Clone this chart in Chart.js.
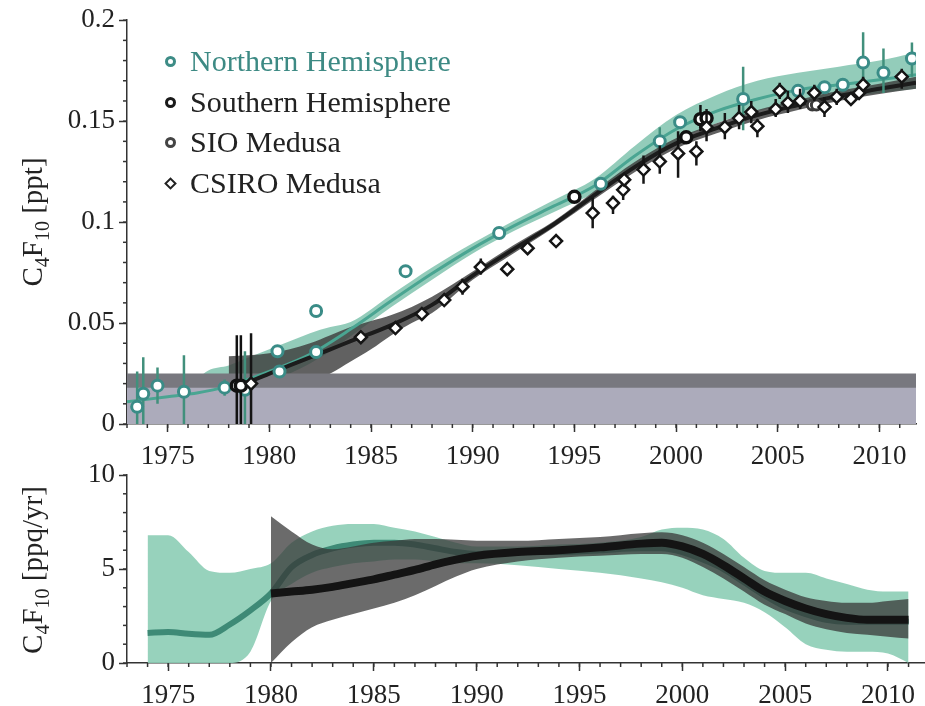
<!DOCTYPE html>
<html>
<head>
<meta charset="utf-8">
<script src="https://cdn.jsdelivr.net/npm/chart.js@4.4.1/dist/chart.umd.min.js"></script>
<style>
  body { margin: 0; background: #fff; }
  #wrap { position: relative; width: 925px; height: 706px; overflow: hidden; font-family: 'Liberation Serif', serif; color: #222; }
  canvas { position: absolute; left: 0; }
  #topChart { top: 0; }
  #bottomChart { top: 450px; }
  .ytitle { position: absolute; white-space: nowrap; font-size: 29px; transform: translate(-50%, -50%) rotate(-90deg); }
  .ytitle sub { font-size: 20px; vertical-align: -7px; line-height: 0; }
  .item { position: absolute; left: 190px; height: 40px; line-height: 40px; font-size: 30px; white-space: nowrap; }
  .mk { position: absolute; width: 11px; height: 11px; border: 3px solid #222; border-radius: 50%; background: #fff; box-sizing: border-box; }
  .dia { position: absolute; width: 9px; height: 9px; border: 2.5px solid #222; background: #fff; box-sizing: border-box; transform: rotate(45deg); }
</style>
</head>
<body>
<div id="wrap">
  <canvas id="topChart" width="925" height="470"></canvas>
  <canvas id="bottomChart" width="925" height="256"></canvas>
  <div class="ytitle" style="left:32px; top:222px;">C<sub>4</sub>F<sub>10</sub> [ppt]</div>
  <div class="ytitle" style="left:32px; top:570px;">C<sub>4</sub>F<sub>10</sub> [ppq/yr]</div>

  <div class="mk" style="left:165px; top:56px; border-color:#3d8c86;"></div>
  <div class="item" style="top:41px; color:#3d8a84;">Northern Hemisphere</div>
  <div class="mk" style="left:165px; top:97px; border-color:#1a1a1a;"></div>
  <div class="item" style="top:82px;">Southern Hemisphere</div>
  <div class="mk" style="left:165px; top:137px; border-color:#444;"></div>
  <div class="item" style="top:122px;">SIO Medusa</div>
  <div class="dia" style="left:166px; top:179px;"></div>
  <div class="item" style="top:163px;">CSIRO Medusa</div>
</div>
<script>
// axis ranges and tick labels
const xMin = 1973, xMax = 2011.8;
const yearTicks = [1975, 1980, 1985, 1990, 1995, 2000, 2005, 2010];
const mixTicks = [0, 0.05, 0.1, 0.15, 0.2];
const emisTicks = [0, 5, 10];

// top panel: blank / detection band
const blankYears = [1973, 2011.8];
const blankLow = [0.018, 0.018];
const blankHigh = [0.025, 0.025];

// top panel: NH model and its uncertainty
const nhModelYears = [1973, 1975, 1976.5, 1977.5, 1978.5, 1980, 1982, 1984, 1986, 1988, 1990, 1992, 1994, 1996, 1998, 2000, 2002, 2004, 2006, 2008, 2010, 2011.8];
const nhModel = [0.011, 0.0135, 0.0155, 0.0175, 0.0205, 0.026, 0.0345, 0.047, 0.061, 0.0745, 0.087, 0.098, 0.108, 0.118, 0.133, 0.146, 0.155, 0.161, 0.1655, 0.168, 0.1705, 0.173];
const nhBandYears = [1976, 1977, 1978, 1979, 1980, 1981, 1982, 1983, 1984, 1986, 1988, 1990, 1992, 1994, 1996, 1998, 2000, 2002, 2004, 2006, 2008, 2010, 2011.8];
const nhBandHigh = [0.018, 0.0265, 0.029, 0.033, 0.037, 0.041, 0.045, 0.048, 0.0505, 0.064, 0.0775, 0.0895, 0.1005, 0.111, 0.1215, 0.138, 0.153, 0.163, 0.170, 0.174, 0.177, 0.180, 0.184];
const nhBandLow = [0.012, 0.014, 0.016, 0.018, 0.021, 0.025, 0.030, 0.036, 0.0435, 0.058, 0.0715, 0.0845, 0.0955, 0.105, 0.1145, 0.128, 0.140, 0.149, 0.155, 0.159, 0.162, 0.164, 0.166];

// top panel: SH model and its uncertainty
const shModelYears = [1978.2, 1979, 1980, 1981, 1982, 1983, 1984, 1986, 1988, 1990, 1992, 1994, 1996, 1998, 2000, 2002, 2004, 2006, 2008, 2010, 2011.8];
const shModel = [0.0195, 0.021, 0.025, 0.029, 0.033, 0.037, 0.041, 0.049, 0.059, 0.0735, 0.0865, 0.099, 0.1135, 0.1275, 0.139, 0.1465, 0.153, 0.158, 0.1625, 0.166, 0.169];
const shBandYears = [1978, 1979, 1980, 1981, 1982, 1983, 1984, 1985, 1986, 1987, 1988, 1990, 1992, 1994, 1996, 1998, 2000, 2002, 2004, 2006, 2008, 2010, 2011.8];
const shBandHigh = [0.0335, 0.034, 0.035, 0.037, 0.040, 0.044, 0.048, 0.051, 0.054, 0.058, 0.063, 0.0755, 0.0885, 0.1005, 0.1155, 0.130, 0.1415, 0.149, 0.1555, 0.1605, 0.165, 0.1685, 0.172];
const shBandLow = [0.005, 0.008, 0.012, 0.016, 0.020, 0.025, 0.031, 0.037, 0.044, 0.050, 0.055, 0.0715, 0.0845, 0.0975, 0.1115, 0.125, 0.1365, 0.144, 0.1505, 0.1555, 0.160, 0.1635, 0.166];

// observations (null = no error bar)
const nhObsYears = [1973.5, 1973.8, 1974.5, 1975.8, 1977.8, 1978.8, 1980.4, 1980.5, 1982.3, 1982.3, 1986.7, 1991.3, 1996.3, 1999.2, 2000.2, 2003.3, 2006.0, 2007.3, 2008.2, 2009.2, 2010.2, 2011.6];
const nhObs = [0.0085, 0.015, 0.019, 0.016, 0.018, 0.017, 0.036, 0.026, 0.056, 0.0356, 0.0757, 0.0946, 0.119, 0.140, 0.1495, 0.161, 0.165, 0.1668, 0.168, 0.179, 0.174, 0.181];
const nhErrLow = [0, 0, 0.010, 0, 0.014, 0, null, 0.023, null, null, null, null, 0.116, 0.1365, null, 0.1455, null, null, null, 0.168, 0.164, 0.172];
const nhErrHigh = [0.026, 0.033, 0.028, 0.034, 0.022, 0.036, null, 0.029, null, null, null, null, 0.122, 0.147, null, 0.177, null, null, null, 0.194, 0.186, 0.189];

const shObsYears = [1978.4, 1978.6, 1995.0, 2000.5, 2001.2, 2001.5];
const shObs = [0.019, 0.019, 0.1125, 0.142, 0.151, 0.1515];
const shErrLow = [0, 0, 0.110, null, 0.145, null];
const shErrHigh = [0.044, 0.044, 0.115, null, 0.158, null];

const sioYears = [2006.7, 2006.9];
const sioObs = [0.158, 0.158];

const csiroYears = [1979.1, 1984.5, 1986.2, 1987.5, 1988.6, 1989.5, 1990.4, 1991.7, 1992.7, 1994.1, 1995.9, 1996.9, 1997.4, 1997.45, 1998.4, 1999.2, 2000.1, 2001.0, 2001.5, 2002.4, 2003.1, 2003.7, 2004.0, 2004.9, 2005.1, 2005.5, 2006.1, 2006.8, 2007.3, 2007.9, 2008.6, 2009.0, 2009.2, 2011.1];
const csiroObs = [0.020, 0.043, 0.0475, 0.0545, 0.0614, 0.068, 0.0777, 0.0767, 0.0871, 0.0906, 0.1045, 0.1094, 0.116, 0.121, 0.126, 0.130, 0.134, 0.135, 0.147, 0.147, 0.1515, 0.1545, 0.1475, 0.156, 0.165, 0.159, 0.160, 0.164, 0.157, 0.162, 0.161, 0.164, 0.168, 0.172];
const csiroErrLow = [0, null, null, null, null, 0.064, 0.074, null, null, null, 0.097, 0.104, 0.111, null, 0.119, 0.124, 0.122, 0.128, 0.140, 0.141, 0.146, 0.149, 0.142, 0.152, 0.161, 0.154, 0.156, 0.160, 0.152, 0.158, null, null, 0.163, 0.166];
const csiroErrHigh = [0.045, null, null, null, null, 0.072, 0.082, null, null, null, 0.112, 0.113, 0.120, null, 0.133, 0.138, 0.145, 0.140, 0.156, 0.154, 0.158, 0.160, 0.151, 0.161, 0.169, 0.165, 0.166, 0.168, 0.162, 0.166, null, null, 0.172, 0.176];

// bottom panel: emissions
const emNhYears = [1974, 1975, 1976, 1977, 1978, 1979, 1980, 1981, 1982, 1983, 1984, 1985, 1986, 1987, 1988, 1989, 1990, 1992, 1994, 1996, 1998, 1999, 2000, 2001, 2002, 2003, 2004, 2005, 2006, 2007, 2008, 2009, 2010, 2011];
const emNh = [1.6, 1.65, 1.55, 1.5, 2.05, 2.8, 3.7, 5.1, 5.75, 6.1, 6.3, 6.4, 6.4, 6.3, 6.1, 5.9, 5.8, 5.9, 5.9, 6.0, 6.1, 6.1, 5.9, 5.5, 5.0, 4.3, 3.6, 3.0, 2.6, 2.3, 2.2, 2.2, 2.2, 2.2];
const emNhHigh = [6.8, 6.8, 5.9, 4.9, 4.8, 5.0, 5.3, 6.4, 7.0, 7.3, 7.4, 7.4, 7.2, 7.0, 6.7, 6.4, 6.2, 6.2, 6.3, 6.4, 6.7, 7.1, 7.2, 7.1, 6.6, 5.6, 4.9, 4.8, 4.8, 4.5, 4.2, 3.9, 3.8, 3.8];
const emNhLow = [0, 0, 0, 0, 0, 0.6, 3.3, 4.2, 4.8, 5.1, 5.3, 5.4, 5.5, 5.5, 5.4, 5.3, 5.3, 5.2, 5.0, 4.8, 4.5, 4.3, 4.0, 3.6, 3.4, 3.2, 2.7, 1.9, 1.0, 0.7, 0.6, 0.6, 0.5, 0.0];

const emShYears = [1980, 1981, 1982, 1983, 1984, 1985, 1986, 1987, 1988, 1989, 1990, 1992, 1994, 1996, 1998, 1999, 2000, 2001, 2002, 2003, 2004, 2005, 2006, 2007, 2008, 2009, 2010, 2011];
const emSh = [3.7, 3.8, 3.9, 4.05, 4.25, 4.45, 4.7, 4.95, 5.25, 5.5, 5.7, 5.9, 6.0, 6.15, 6.35, 6.4, 6.2, 5.8, 5.2, 4.5, 3.8, 3.3, 2.9, 2.6, 2.4, 2.3, 2.3, 2.3];
const emShHigh = [7.8, 7.0, 6.3, 6.05, 6.2, 6.4, 6.5, 6.6, 6.6, 6.55, 6.5, 6.5, 6.6, 6.7, 6.9, 6.95, 6.8, 6.4, 5.8, 5.1, 4.4, 3.9, 3.5, 3.3, 3.2, 3.2, 3.3, 3.4];
const emShLow = [0, 1.1, 1.9, 2.3, 2.6, 2.9, 3.2, 3.6, 4.1, 4.6, 5.0, 5.4, 5.6, 5.7, 5.8, 5.8, 5.6, 5.1, 4.5, 3.8, 3.1, 2.6, 2.1, 1.8, 1.6, 1.5, 1.4, 1.3];

Chart.defaults.font.family = "'Liberation Serif', serif";
Chart.defaults.font.size = 27;
Chart.defaults.color = "#222";

const pts = (xs, ys) => xs.map((x, i) => ({ x: x, y: ys[i] }));
const obs = (xs, ys, lo, hi) => xs.map((x, i) => ({ x: x, y: ys[i], lo: lo ? lo[i] : null, hi: hi ? hi[i] : null }));

// error bars drawn just before their marker dataset
const errorBars = {
  id: "errorBars",
  beforeDatasetDraw(chart, args) {
    const ds = chart.data.datasets[args.index];
    if (!ds.errorColor) return;
    const { ctx, chartArea, scales } = chart;
    ctx.save();
    ctx.beginPath();
    ctx.rect(chartArea.left, chartArea.top, chartArea.width, chartArea.height);
    ctx.clip();
    ctx.strokeStyle = ds.errorColor;
    ctx.lineWidth = ds.errorWidth || 2;
    ds.data.forEach(p => {
      if (p.lo === null || p.lo === undefined) return;
      const x = scales.x.getPixelForValue(p.x);
      ctx.beginPath();
      ctx.moveTo(x, scales.y.getPixelForValue(p.lo));
      ctx.lineTo(x, scales.y.getPixelForValue(p.hi));
      ctx.stroke();
    });
    ctx.restore();
  }
};

// small minor ticks between the labelled ones
const minorTicks = {
  id: "minorTicks",
  afterDraw(chart, args, opts) {
    const { ctx } = chart;
    const x = chart.scales.x, y = chart.scales.y;
    ctx.save();
    ctx.strokeStyle = "#333";
    ctx.lineWidth = 1.5;
    for (let v = Math.ceil(x.min); v <= x.max; v += 1) {
      const px = x.getPixelForValue(v);
      ctx.beginPath();
      ctx.moveTo(px, x.top);
      ctx.lineTo(px, x.top + 4);
      ctx.stroke();
    }
    const n = Math.round((y.max - y.min) / opts.yStep);
    for (let i = 0; i <= n; i++) {
      const py = y.getPixelForValue(y.min + i * opts.yStep);
      ctx.beginPath();
      ctx.moveTo(y.right, py);
      ctx.lineTo(y.right - 4, py);
      ctx.stroke();
    }
    ctx.restore();
  }
};

function xScale(h) {
  return {
    type: "linear",
    min: xMin,
    max: xMax,
    afterBuildTicks: s => { s.ticks = yearTicks.map(v => ({ value: v })); },
    afterFit: s => { s.height = h; },
    ticks: { callback: v => String(v), padding: 9, maxRotation: 0, autoSkip: false },
    grid: { drawOnChartArea: false, tickLength: 8, tickColor: "#333", tickWidth: 1.5 },
    border: { color: "#333", width: 1.5 }
  };
}

function yScale(max, tickVals) {
  return {
    type: "linear",
    min: 0,
    max: max,
    afterBuildTicks: s => { s.ticks = tickVals.map(v => ({ value: v })); },
    afterFit: s => { s.width = 127; },
    ticks: { callback: v => String(v), padding: 4 },
    grid: { drawOnChartArea: false, tickLength: 8, tickColor: "#333", tickWidth: 1.5 },
    border: { color: "#333", width: 1.5 }
  };
}

const hidden = { borderWidth: 0, borderColor: "rgba(0,0,0,0)", pointRadius: 0, fill: false };
const smooth = { cubicInterpolationMode: "monotone", pointRadius: 0 };

new Chart(document.getElementById("topChart"), {
  type: "line",
  data: {
    datasets: [
      // markers (lower order = drawn on top)
      { label: "CSIRO Medusa", data: obs(csiroYears, csiroObs, csiroErrLow, csiroErrHigh), showLine: false,
        pointStyle: "rectRot", pointRadius: 6, borderWidth: 2.5, borderColor: "#151515", backgroundColor: "#fff",
        errorColor: "#151515", errorWidth: 2.5, order: 1 },
      { label: "SIO Medusa", data: obs(sioYears, sioObs), showLine: false,
        pointRadius: 5, borderWidth: 3, borderColor: "#3a3a3a", backgroundColor: "#fff", order: 2 },
      { label: "Southern Hemisphere", data: obs(shObsYears, shObs, shErrLow, shErrHigh), showLine: false,
        pointRadius: 5.5, borderWidth: 3.5, borderColor: "#111", backgroundColor: "#fff",
        errorColor: "#111", errorWidth: 2.5, order: 3 },
      { label: "Northern Hemisphere", data: obs(nhObsYears, nhObs, nhErrLow, nhErrHigh), showLine: false,
        pointRadius: 5.5, borderWidth: 3, borderColor: "#3a8c87", backgroundColor: "#fff",
        errorColor: "#41907c", errorWidth: 2.5, order: 4 },
      // model lines
      { data: pts(shModelYears, shModel), ...smooth, borderColor: "#1c1c1c", borderWidth: 4, fill: false, order: 5 },
      { data: pts(nhModelYears, nhModel), ...smooth, borderColor: "#4aa592", borderWidth: 3, fill: false, order: 6 },
      // blank band
      { data: pts(blankYears, blankLow), pointRadius: 0, borderWidth: 0, borderColor: "rgba(0,0,0,0)",
        fill: "origin", backgroundColor: "#acabbb", order: 7 },
      { data: pts(blankYears, blankHigh), pointRadius: 0, borderWidth: 0, borderColor: "rgba(0,0,0,0)",
        fill: "origin", backgroundColor: "#78787f", order: 8 },
      // SH band
      { data: pts(shBandYears, shBandLow), ...smooth, ...hidden, order: 10 },
      { data: pts(shBandYears, shBandHigh), ...smooth, borderWidth: 0, borderColor: "rgba(0,0,0,0)",
        fill: "-1", backgroundColor: "rgba(62,62,62,0.82)", order: 9 },
      // NH band
      { data: pts(nhBandYears, nhBandLow), ...smooth, ...hidden, order: 12 },
      { data: pts(nhBandYears, nhBandHigh), ...smooth, borderWidth: 0, borderColor: "rgba(0,0,0,0)",
        fill: "-1", backgroundColor: "rgba(116,190,166,0.78)", order: 11 }
    ]
  },
  options: {
    responsive: false,
    animation: false,
    layout: { padding: { top: 20, right: 0, left: 0, bottom: 0 } },
    plugins: { legend: { display: false }, tooltip: { enabled: false }, minorTicks: { yStep: 0.01 } },
    scales: { x: xScale(46), y: yScale(0.2, mixTicks) }
  },
  plugins: [errorBars, minorTicks]
});

new Chart(document.getElementById("bottomChart"), {
  type: "line",
  data: {
    datasets: [
      { data: pts(emShYears, emSh), ...smooth, borderColor: "#141414", borderWidth: 8, fill: false, order: 1 },
      { data: pts(emShYears, emShLow), ...smooth, ...hidden, order: 3 },
      { data: pts(emShYears, emShHigh), ...smooth, borderWidth: 0, borderColor: "rgba(0,0,0,0)",
        fill: "-1", backgroundColor: "rgba(55,55,55,0.74)", order: 2 },
      { data: pts(emNhYears, emNh), ...smooth, borderColor: "#3e8a76", borderWidth: 6, fill: false, order: 4 },
      { data: pts(emNhYears, emNhLow), ...smooth, ...hidden, order: 6 },
      { data: pts(emNhYears, emNhHigh), ...smooth, borderWidth: 0, borderColor: "rgba(0,0,0,0)",
        fill: "-1", backgroundColor: "rgba(142,206,182,0.92)", order: 5 }
    ]
  },
  options: {
    responsive: false,
    animation: false,
    layout: { padding: { top: 25, right: 0, left: 0, bottom: 0 } },
    plugins: { legend: { display: false }, tooltip: { enabled: false }, minorTicks: { yStep: 1 } },
    scales: { x: xScale(43), y: yScale(10, emisTicks) }
  },
  plugins: [errorBars, minorTicks]
});
</script>
</body>
</html>
